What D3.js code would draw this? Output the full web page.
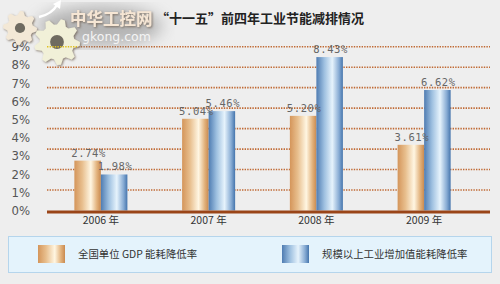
<!DOCTYPE html>
<html>
<head>
<meta charset="utf-8">
<script src="https://cdn.jsdelivr.net/npm/d3@7"></script>
<style>
  body { margin: 0; background: #eeeeee; }
  svg { display: block; }
  text { font-family: "Noto Sans CJK SC", "DejaVu Sans", sans-serif; }
</style>
</head>
<body>
<div id="chart"></div>
<script>
const years = ["2006 年", "2007 年", "2008 年", "2009 年"];
const seriesNames = ["全国单位 GDP 能耗降低率", "规模以上工业增加值能耗降低率"];
const gdpRates = [2.74, 5.04, 5.20, 3.61];
const industryRates = [1.98, 5.46, 8.43, 6.62];
const yTicks = [0, 1, 2, 3, 4, 5, 6, 7, 8, 9];
const gridCount = 8;
const title = "“十一五”前四年工业节能减排情况";

const width = 500, height = 284;
const plot = {left: 47, right: 478, top: 46.7, bottom: 210.5, gridEnd: 490};

const svg = d3.select("#chart").append("svg")
  .attr("width", width)
  .attr("height", height);

const defs = svg.append("defs");

function barGradient(id, stops) {
  const g = defs.append("linearGradient").attr("id", id)
    .attr("x1", "0%").attr("x2", "100%").attr("y1", "0%").attr("y2", "0%");
  stops.forEach(([o, c]) => g.append("stop").attr("offset", o).attr("stop-color", c));
}
barGradient("orange", [["0%", "#d4955a"], ["30%", "#e8bf8e"], ["62%", "#fff6e2"], ["85%", "#e2b27c"], ["100%", "#c98a50"]]);
barGradient("blue", [["0%", "#4f7cb2"], ["30%", "#9ec0e0"], ["60%", "#e6f3fc"], ["85%", "#88acd4"], ["100%", "#4575ad"]]);

defs.append("filter").attr("id", "blur")
  .append("feGaussianBlur").attr("stdDeviation", 8);
defs.append("filter").attr("id", "shadow")
  .attr("x", "-20%").attr("y", "-20%").attr("width", "140%").attr("height", "140%")
  .append("feDropShadow")
  .attr("dx", 1).attr("dy", 1).attr("stdDeviation", 1)
  .attr("flood-color", "#6a5a4a").attr("flood-opacity", 0.8);

const x = d3.scaleBand()
  .domain(years)
  .range([plot.left, plot.right])
  .paddingInner(0.508)
  .paddingOuter(0.254);

const xSub = d3.scaleBand()
  .domain([0, 1])
  .range([0, x.bandwidth()]);

const y = d3.scaleLinear()
  .domain([0, 9])
  .range([plot.bottom, plot.top]);

// dotted gridlines (the original draws 8 even divisions)
const grid = d3.scaleLinear().domain([0, gridCount]).range([plot.bottom, plot.top]);
svg.append("g")
  .selectAll("line")
  .data(d3.range(1, gridCount + 1))
  .join("line")
  .attr("x1", plot.left)
  .attr("x2", plot.gridEnd)
  .attr("y1", d => grid(d))
  .attr("y2", d => grid(d))
  .attr("stroke", "#c06a34")
  .attr("stroke-width", 1.6)
  .attr("stroke-dasharray", "1.4,1.2");

// y labels
svg.append("g")
  .selectAll("text")
  .data(yTicks)
  .join("text")
  .attr("x", 30)
  .attr("y", d => y(d))
  .attr("dy", "0.35em")
  .attr("text-anchor", "end")
  .attr("fill", "#555")
  .style("font-family", "'Liberation Sans Narrow', 'DejaVu Sans Condensed', sans-serif")
  .style("font-size", "13px")
  .text(d => d + "%");

// bars
const rows = years.map((yr, i) => ({year: yr, values: [gdpRates[i], industryRates[i]]}));
const groups = svg.append("g")
  .selectAll("g")
  .data(rows)
  .join("g")
  .attr("transform", d => `translate(${x(d.year)},0)`);

groups.selectAll("rect")
  .data(d => d.values.map((v, k) => ({v, k})))
  .join("rect")
  .attr("x", d => xSub(d.k))
  .attr("width", xSub.bandwidth())
  .attr("y", d => y(d.v))
  .attr("height", d => y(0) - y(d.v))
  .attr("fill", d => d.k === 0 ? "url(#orange)" : "url(#blue)");

groups.selectAll("text.value")
  .data(d => d.values.map((v, k) => ({v, k})))
  .join("text")
  .attr("class", "value")
  .attr("x", d => xSub(d.k) + xSub.bandwidth() / 2 + 1)
  .attr("y", d => y(d.v) - 4)
  .attr("text-anchor", "middle")
  .attr("fill", "#666")
  .style("font-family", "'DejaVu Sans Mono', monospace")
  .style("font-size", "10.5px")
  .style("letter-spacing", "0.6px")
  .text(d => d3.format(".2f")(d.v) + "%");

// baseline
svg.append("line")
  .attr("x1", plot.left)
  .attr("x2", plot.gridEnd)
  .attr("y1", y(0) + 1.5)
  .attr("y2", y(0) + 1.5)
  .attr("stroke", "#9a4518")
  .attr("stroke-width", 3);

// category labels
svg.append("g")
  .selectAll("text")
  .data(years)
  .join("text")
  .attr("x", d => x(d) + x.bandwidth() / 2)
  .attr("y", 224)
  .attr("text-anchor", "middle")
  .attr("fill", "#333")
  .style("font-size", "10.5px")
  .text(d => d);

// legend
const legend = svg.append("g");
legend.append("rect")
  .attr("x", 8.5).attr("y", 236.5)
  .attr("width", 483).attr("height", 36)
  .attr("fill", "#e4f3fc")
  .attr("stroke", "#b5d5ec");
const legendX = [38, 282];
legend.selectAll("g")
  .data(seriesNames)
  .join("g")
  .attr("transform", (d, i) => `translate(${legendX[i]},245)`)
  .each(function(d, i) {
    const g = d3.select(this);
    g.append("rect").attr("width", 27).attr("height", 18)
      .attr("fill", i === 0 ? "url(#orange)" : "url(#blue)");
    g.append("text").attr("x", 40).attr("y", 9).attr("dy", "0.35em")
      .attr("fill", "#333").style("font-size", "10.4px").text(d);
  });

// title
svg.append("text")
  .attr("x", 156)
  .attr("y", 23)
  .attr("fill", "#222")
  .style("font-size", "13px")
  .style("font-weight", "bold")
  .text(title);

// logo watermark
const logo = svg.append("g");
logo.append("ellipse")
  .attr("cx", 100).attr("cy", 26).attr("rx", 62).attr("ry", 20)
  .attr("fill", "#7a7a7a").attr("opacity", 0.5)
  .attr("filter", "url(#blur)");

function gearPath(r, teeth) {
  const pts = [];
  const n = teeth * 4;
  for (let i = 0; i < n; i++) {
    const a = (i / n) * 2 * Math.PI;
    const rr = (i % 4 < 2) ? r : r * 0.76;
    pts.push([Math.cos(a) * rr, Math.sin(a) * rr]);
  }
  return d3.line().curve(d3.curveLinearClosed)(pts);
}
[[20, 28, 17, 8, "#f3e8d6"], [57, 42, 23, 9, "#f1f0d8"]].forEach(([cx, cy, r, t, c]) => {
  const g = logo.append("g").attr("transform", `translate(${cx},${cy})`);
  g.append("path").attr("d", gearPath(r, t)).attr("fill", c)
    .attr("filter", "url(#shadow)");
  g.append("circle").attr("r", r * 0.3).attr("fill", "#6e6a60");
});
// yellow tint of the top gridline where it runs under the logo
logo.append("line")
  .attr("x1", plot.left).attr("x2", 77)
  .attr("y1", grid(gridCount)).attr("y2", grid(gridCount))
  .attr("stroke", "#e0c020").attr("stroke-width", 1.6)
  .attr("stroke-dasharray", "1.4,1.2");
logo.append("path")
  .attr("d", "M39,17 Q52,14 57,5")
  .attr("fill", "none").attr("stroke", "#ffffff").attr("stroke-width", 2.5);
logo.append("path")
  .attr("d", "M53,4 L61,0 L60,9 Z").attr("fill", "#ffffff");

logo.append("text")
  .attr("x", 70).attr("y", 25)
  .attr("fill", "#f6e6d4")
  .attr("filter", "url(#shadow)")
  .style("font-size", "16.5px").style("font-weight", "bold")
  .text("中华工控网");
logo.append("text")
  .attr("x", 82).attr("y", 41)
  .attr("fill", "#f4f4f4")
  .style("font-family", "'DejaVu Sans', sans-serif")
  .style("font-size", "12.5px")
  .text("gkong.com");
</script>
</body>
</html>
